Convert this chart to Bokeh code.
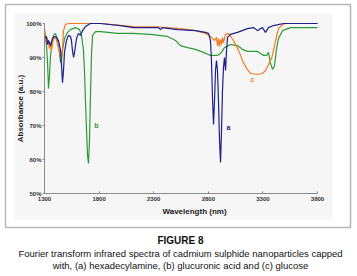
import math
from bokeh.plotting import figure
from bokeh.models import Range1d, FixedTicker, PrintfTickFormatter, BoxAnnotation, Label
from bokeh.embed import file_html
from bokeh.resources import INLINE

# ---- data (wavenumber, absorbance %) ----
wn_a = [1300, 1318, 1327, 1337, 1355, 1373, 1392, 1410, 1428, 1447, 1456, 1465, 1474, 1483, 1501,
        1520, 1538, 1547, 1556, 1566, 1575, 1593, 1611, 1630, 1648, 1675, 1721, 1813, 1996, 2115,
        2317, 2344, 2362, 2381, 2518, 2683, 2774, 2802, 2820, 2829, 2839, 2848, 2857, 2866, 2875,
        2884, 2893, 2903, 2912, 2921, 2930, 2939, 2948, 2958, 2967, 2976, 3003, 3067, 3159, 3214,
        3251, 3278, 3296, 3324, 3351, 3397, 3489, 3800]
ab_a = [95.6, 96.2, 93.8, 95.0, 93.5, 95.6, 96.2, 95.9, 95.0, 92.1, 87.6, 82.6, 86.2, 91.5, 95.0,
        96.5, 96.2, 95.0, 92.1, 90.0, 91.5, 95.6, 97.1, 96.5, 97.9, 99.1, 100, 100, 99.4, 98.8,
        98.8, 98.8, 98.2, 98.8, 98.2, 97.9, 97.4, 97.1, 95.0, 89.1, 77.4, 70.3, 77.4, 86.2, 89.1,
        86.2, 77.4, 65.6, 59.1, 68.5, 80.3, 87.1, 90.0, 86.2, 92.1, 95.9, 96.8, 97.4, 98.5, 98.8,
        97.9, 98.5, 98.8, 97.4, 98.8, 99.4, 100, 100]

wn_b = [1300, 1309, 1318, 1327, 1337, 1346, 1355, 1373, 1382, 1401, 1419, 1437, 1447, 1456, 1465,
        1483, 1511, 1538, 1584, 1621, 1639, 1657, 1666, 1675, 1685, 1694, 1703, 1712, 1721, 1730,
        1740, 1767, 1813, 1969, 2115, 2271, 2426, 2500, 2545, 2610, 2683, 2756, 2820, 2884, 2921,
        2948, 3003, 3067, 3113, 3159, 3251, 3306, 3333, 3351, 3370, 3388, 3406, 3425, 3443, 3480,
        3553, 3800]
ab_b = [97.1, 96.5, 93.5, 89.1, 80.9, 84.7, 90.6, 95.0, 96.5, 97.1, 95.0, 91.5, 88.5, 89.1, 92.1,
        95.6, 97.4, 98.2, 98.8, 98.2, 96.5, 92.1, 86.2, 77.4, 68.5, 61.2, 58.8, 65.6, 78.8, 90.6,
        96.5, 97.6, 97.6, 97.1, 97.1, 96.8, 96.2, 95.0, 93.5, 92.9, 92.4, 91.5, 90.6, 90.6, 91.5,
        92.9, 93.8, 93.5, 92.4, 91.8, 91.8, 90.6, 90.6, 91.5, 88.2, 86.5, 87.6, 92.6, 95.6, 97.9,
        98.8, 98.8]

wn_c = [1300, 1309, 1318, 1327, 1346, 1355, 1364, 1382, 1401, 1419, 1437, 1456, 1465, 1474, 1492,
        1520, 1813, 2115, 2335, 2381, 2545, 2683, 2774, 2820, 2857, 2875, 2884, 2893, 2903,
        2912, 2921, 2930, 2939, 2958, 2985, 3031, 3077, 3113, 3150, 3187, 3251, 3296, 3324, 3351,
        3379, 3397, 3416, 3443, 3480, 3507, 3800]
ab_c = [98.5, 96.5, 94.1, 95.6, 92.6, 94.4, 92.1, 95.6, 95.9, 94.1, 91.5, 90.0, 92.6, 97.9, 99.7,
        100, 100, 99.1, 99.0, 98.9, 98.5, 97.9, 97.1, 96.2, 95.0, 95.9, 93.5, 95.6, 93.2,
        95.3, 93.8, 95.9, 94.4, 96.8, 97.1, 95.0, 92.1, 89.1, 86.8, 85.3, 85.0, 85.3, 86.2, 87.9,
        89.7, 92.1, 95.0, 98.5, 99.7, 100, 100]

x_ticks = [1300, 1800, 2300, 2800, 3300, 3800]
y_ticks = [50, 60, 70, 80, 90, 100]
series_labels = ["a", "b", "c"]
label_pos_x = [2985, 1776, 3205]
label_pos_y = [69.4, 70.0, 83.5]
colors = ["#1f1f8c", "#2f9a36", "#f47a22"]

x_title = "Wavelength (nm)"
y_title = "Absorbance (a.u.)"
caption_title = "FIGURE 8"
caption_1 = "Fourier transform infrared spectra of cadmium sulphide nanoparticles capped"
caption_2 = "with, (a) hexadecylamine, (b) glucuronic acid and (c) glucose"

W, H = 357, 276
FONT = "Liberation Sans"

# plot frame covers the whole canvas; data area 1300..3800 -> x 44..317, 50..100 % -> y 193..23
XPX = 500 / 54.6
YPX = 3.4
x0 = 1300 - 44 * XPX
y1 = 100 + 23 / YPX
p = figure(width=W, height=H, output_backend="svg", toolbar_location=None,
           x_range=Range1d(x0, x0 + W * XPX), y_range=Range1d(y1 - H / YPX, y1),
           min_border=0)
p.title.visible = False
p.background_fill_color = "white"
p.border_fill_color = "white"
p.outline_line_color = None
p.xgrid.visible = False
p.ygrid.visible = False

# grey chart area and outer black frame (canvas pixels)
p.add_layout(BoxAnnotation(left=14, right=332, top=13, bottom=219,
                           left_units="canvas", right_units="canvas",
                           top_units="canvas", bottom_units="canvas",
                           fill_color="#f6f6f6", fill_alpha=1, line_color=None, level="underlay"))
p.add_layout(BoxAnnotation(left=5, right=350, top=4, bottom=227,
                           left_units="canvas", right_units="canvas",
                           top_units="canvas", bottom_units="canvas",
                           fill_alpha=0, line_color="#111111", line_width=1.5, level="overlay"))

for wn, ab, c in [(wn_b, ab_b, colors[1]), (wn_c, ab_c, colors[2]), (wn_a, ab_a, colors[0])]:
    p.line(wn, ab, line_color=c, line_width=1.2)

for t, xx, yy, c in zip(series_labels, label_pos_x, label_pos_y, colors):
    p.add_layout(Label(x=xx, y=yy, text=t, text_color=c, text_font=FONT, text_font_style="bold",
                       text_font_size="7px", text_align="center", text_baseline="middle"))

xa = p.xaxis[0]
xa.fixed_location = 50
xa.bounds = (1300, 3800)
xa.ticker = FixedTicker(ticks=x_ticks)
xa.minor_tick_line_color = None
xa.major_tick_in = 2
xa.major_tick_out = 0
xa.axis_line_color = "#8a8a8a"
xa.major_tick_line_color = "#8a8a8a"
xa.major_label_text_font = FONT
xa.major_label_text_font_size = "6px"
xa.major_label_text_font_style = "bold"
xa.major_label_text_color = "#333333"
xa.major_label_standoff = 3

ya = p.yaxis[0]
ya.fixed_location = 1300
ya.bounds = (50, 100)
ya.ticker = FixedTicker(ticks=y_ticks)
ya.formatter = PrintfTickFormatter(format="%d%%")
ya.minor_tick_line_color = None
ya.major_tick_in = 0
ya.major_tick_out = 2
ya.axis_line_color = "#8a8a8a"
ya.major_tick_line_color = "#8a8a8a"
ya.major_label_text_font = FONT
ya.major_label_text_font_size = "6px"
ya.major_label_text_font_style = "bold"
ya.major_label_text_color = "#333333"
ya.major_label_standoff = 1

# axis titles
p.add_layout(Label(x=194, y=211, x_units="canvas", y_units="canvas", text=x_title,
                   text_font=FONT, text_font_size="8px", text_font_style="bold",
                   text_color="#1a1a1a", text_align="center", text_baseline="middle"))
p.add_layout(Label(x=20, y=108, x_units="canvas", y_units="canvas", text=y_title, angle=math.pi / 2,
                   text_font=FONT, text_font_size="8px", text_font_style="bold",
                   text_color="#1a1a1a", text_align="center", text_baseline="middle"))

for txt, yy, sz, st in [(caption_title, 240, "10px", "bold"), (caption_1, 253, "9.5px", "normal"),
                        (caption_2, 265, "9.5px", "normal")]:
    p.add_layout(Label(x=180, y=yy, x_units="canvas", y_units="canvas", text=txt,
                       text_font=FONT, text_font_size=sz, text_font_style=st, text_color="#111111",
                       text_align="center", text_baseline="middle"))

open("out.html", "w").write(file_html(p, INLINE))
